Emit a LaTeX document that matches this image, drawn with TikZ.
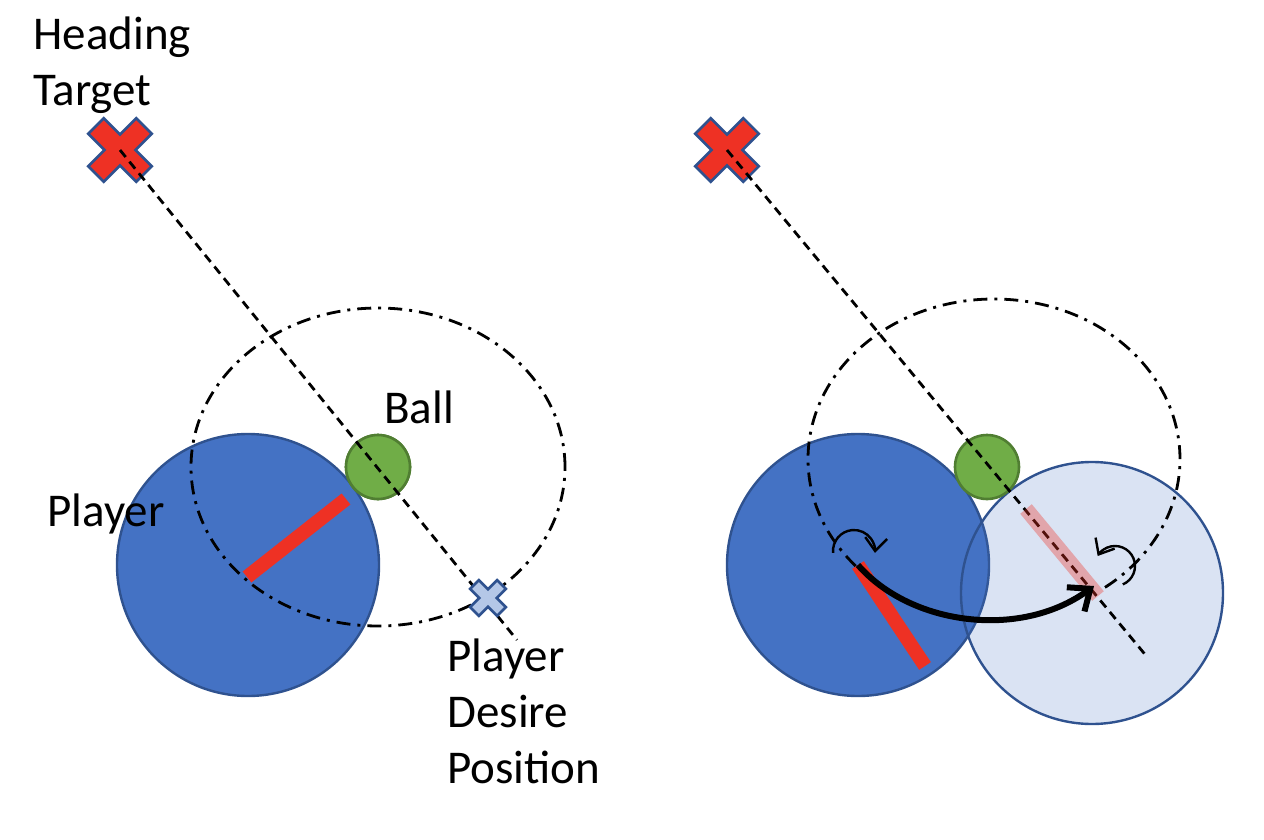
\documentclass[tikz,border=0pt]{standalone}
\usepackage{fontspec}
\setmainfont{Carlito}
\usetikzlibrary{arrows.meta}
\definecolor{pblue}{HTML}{4472C4}
\definecolor{pedge}{HTML}{2F528F}
\definecolor{bgreen}{HTML}{70AD47}
\definecolor{gedge}{HTML}{507E32}
\definecolor{bred}{HTML}{EE3124}
\definecolor{xlight}{HTML}{B4C7E7}
\tikzset{
  plstyle/.style={circle, draw=pedge, line width=1.2pt, fill=pblue, minimum size=131pt, inner sep=0pt},
  ghoststyle/.style={plstyle, fill opacity=0.2},
  ballstyle/.style={circle, draw=gedge, line width=1.3pt, fill=bgreen, minimum size=32pt, inner sep=0pt},
  headline/.style={dash pattern=on 4.5pt off 3pt, line width=1.4pt},
  orbitline/.style={dash pattern=on 7pt off 3.5pt on 1.5pt off 3.5pt, line width=1.4pt},
  redbar/.style={line width=7pt, draw=bred},
  pinkbar/.style={line width=7.5pt, draw=bred, draw opacity=0.35},
  txt/.style={font=\fontsize{23.5}{28}\selectfont, inner sep=0pt, align=left},
  rotarrow/.style={line width=1.2pt, -{Straight Barb[length=6.5pt,width=11pt]}},
  movearrow/.style={line width=3pt, -{Straight Barb[length=9pt,width=15pt]}},
  bigx/.pic={\filldraw[fill=bred, draw=pedge, line width=1.3pt, rotate=45]
    (11,34)--(11,11)--(34,11)--(34,-11)--(11,-11)--(11,-34)--(-11,-34)--(-11,-11)--(-34,-11)--(-34,11)--(-11,11)--(-11,34)--cycle;},
  smallx/.pic={\filldraw[fill=xlight, draw=pedge, line width=1.3pt, rotate=45, scale=0.56]
    (11,34)--(11,11)--(34,11)--(34,-11)--(11,-11)--(11,-34)--(-11,-34)--(-11,-11)--(-34,-11)--(-34,11)--(-11,11)--(-11,34)--cycle;}
}
\begin{document}
\begin{tikzpicture}[x=0.5pt,y=0.5pt]
\useasboundingbox (0,0) rectangle (1264,-840);
% ---------- left panel ----------
\node[plstyle] (p1) at (248,-565) {};
\node[ballstyle] (b1) at (378,-467) {};
\draw[orbitline] (b1.center) ellipse [x radius=187, y radius=159];
\node[ballstyle] at (b1) {};
\coordinate (ht1) at (120,-150);
\coordinate (le1) at (517,-640);
\coordinate (ds1) at (488,-598);
\pic at (ht1) {bigx};
\draw[headline] (ht1) -- (le1);
\coordinate (r1a) at (247,-577);
\coordinate (r1b) at (346,-499);
\draw[redbar] (r1a) -- (r1b);
\pic at (ds1) {smallx};
\node[txt, anchor=north west] (tHT) at (33,-16) {Heading\\Target};
\node[txt, anchor=base west] (tBall) at (384,-423) {Ball};
\node[txt, anchor=base west] (tPl) at (47,-526) {Player};
\node[txt, anchor=north west] (tDP) at (447,-638) {Player\\Desire\\Position};
% ---------- right panel ----------
\node[plstyle] (p2) at (858,-565) {};
\node[ghoststyle] (p3) at (1092,-593) {};
\coordinate (oc) at (994,-459);
\draw[orbitline] (oc) ++(222:186 and 160) arc[start angle=222, end angle=-55, x radius=186, y radius=160];
\node[ballstyle] (b2) at (987,-467) {};
\coordinate (ht2) at (727,-150);
\coordinate (le2) at (1148,-658);
\pic at (ht2) {bigx};
\draw[headline] (ht2) -- (le2);
\coordinate (pk1) at (1026,-509);
\coordinate (pk2) at (1098,-596);
\draw[pinkbar] (pk1) -- (pk2);
\coordinate (r2b) at (925,-666);
\draw[redbar] (p2.center) -- (r2b);
\coordinate (tgt) at (1094,-586);
\draw[movearrow] (p2.center) .. controls (910,-625) and (1020,-640) .. (tgt);
\draw[rotarrow] (854,-551) ++(185:21) arc[start angle=185, end angle=-5, radius=21];
\draw[rotarrow] (1115,-566) ++(-67:20) arc[start angle=-67, end angle=150, radius=20];
\end{tikzpicture}
\end{document}
